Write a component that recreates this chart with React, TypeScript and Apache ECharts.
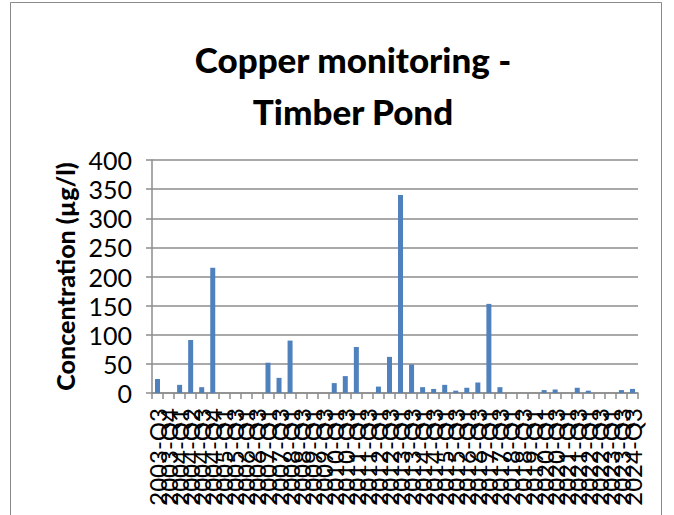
import React, { useEffect, useRef } from "react";
import * as echarts from "echarts";

const titleLines = ["Copper monitoring -", "Timber Pond"];
const yAxisTitle = "Concentration (µg/l)";
const categories = [
  "2003-Q3", "2003-Q4", "2004-Q1", "2004-Q2", "2004-Q3", "2004-Q4", "2005-Q1", "2005-Q3",
  "2006-Q1", "2006-Q3", "2007-Q1", "2007-Q3", "2008-Q1", "2008-Q3", "2009-Q1", "2009-Q3",
  "2010-Q1", "2010-Q3", "2011-Q1", "2011-Q3", "2012-Q1", "2012-Q3", "2013-Q1", "2013-Q3",
  "2014-Q1", "2014-Q3", "2015-Q1", "2015-Q3", "2016-Q1", "2016-Q3", "2017-Q1", "2017-Q3",
  "2018-Q1", "2018-Q3", "2019-Q1",
  "2020-Q1", "2020-Q3", "2021-Q1", "2021-Q3", "2022-Q1", "2022-Q3", "2023-Q1", "2023-Q3", "2024-Q3",
];
const copperValues: (number | null)[] = [
  24, null, 14, 91, 10, 215, null, null,
  null, null, 52, 26, 90, null, null, null,
  17, 29, 79, null, 11, 62, 340, 49,
  10, 7, 14, 4, 9, 18, 153, 10,
  null, null, null,
  5, 6, null, 9, 4, null, null, 5, 7,
];
const yMin = 0;
const yMax = 400;
const yStep = 50;

const FONT = "Lato, 'Open Sans', sans-serif";

export default function App() {
  const ref = useRef<HTMLDivElement>(null);
  useEffect(() => {
    if (!ref.current) return;
    const chart = echarts.init(ref.current, null, { renderer: "svg" });
    chart.setOption({
      animation: false,
      backgroundColor: "#ffffff",
      title: {
        text: titleLines.join("\n"),
        left: 348,
        top: 28,
        textAlign: "center",
        textStyle: {
          fontFamily: FONT,
          fontWeight: 900,
          fontSize: 35,
          lineHeight: 52,
          color: "#000000",
        },
      },
      graphic: [
        {
          type: "rect",
          shape: { x: 10.5, y: 2.5, width: 651, height: 530 },
          style: { fill: "none", stroke: "#8a8a8a", lineWidth: 1 },
          silent: true,
        },
      ],
      grid: { left: 152, right: 36, top: 160, bottom: 122, containLabel: false },
      xAxis: {
        type: "category",
        data: categories,
        axisLine: { show: true, lineStyle: { color: "#8c8c8c", width: 1.5 } },
        axisTick: { show: true, alignWithLabel: false, length: 6, lineStyle: { color: "#8c8c8c", width: 1.5 } },
        axisLabel: {
          interval: 0,
          rotate: 90,
          fontFamily: FONT,
          fontSize: 24,
          color: "#000000",
          margin: 15,
        },
        splitLine: { show: false },
      },
      yAxis: {
        type: "value",
        min: yMin,
        max: yMax,
        interval: yStep,
        name: yAxisTitle,
        nameLocation: "middle",
        nameRotate: 90,
        nameGap: 70,
        nameTextStyle: {
          fontFamily: FONT,
          fontWeight: 900,
          fontSize: 25,
          color: "#000000",
        },
        axisLine: { show: true, lineStyle: { color: "#8c8c8c", width: 1.5 } },
        axisTick: { show: true, length: 6, lineStyle: { color: "#8c8c8c", width: 1.5 } },
        axisLabel: {
          fontFamily: FONT,
          fontSize: 25,
          color: "#000000",
          margin: 20,
        },
        splitLine: { show: true, lineStyle: { color: "#8c8c8c", width: 1.5 } },
      },
      series: [
        {
          type: "bar",
          data: copperValues,
          barWidth: 5,
          itemStyle: { color: "#4f81bd" },
        },
      ],
    });
    return () => chart.dispose();
  }, []);
  return (
    <div
      ref={ref}
      style={{ position: "absolute", left: 0, top: 0, width: 674, height: 515 }}
    />
  );
}
